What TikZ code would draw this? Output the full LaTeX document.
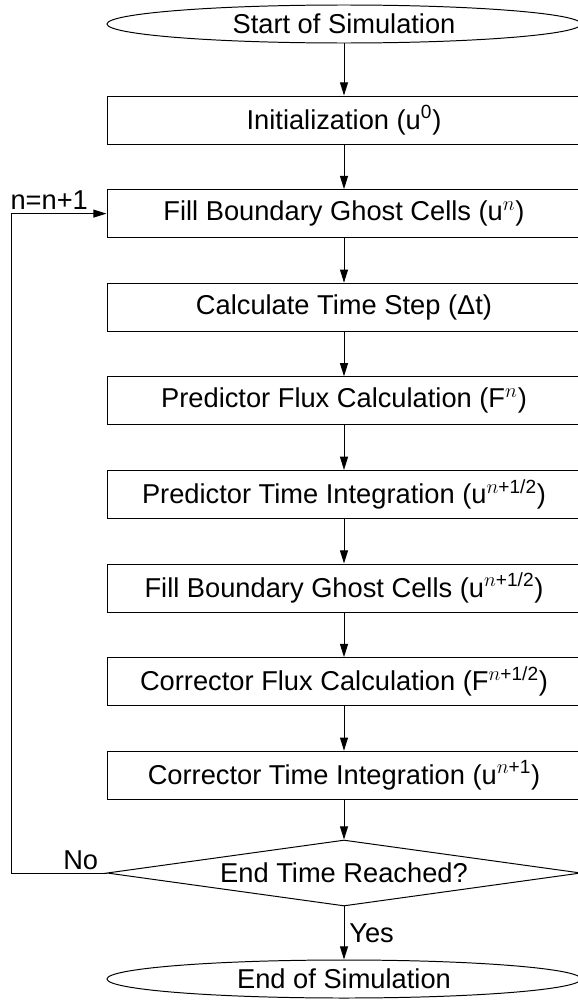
\documentclass[tikz,border=0pt]{standalone}
\usepackage{fontspec}
\setmainfont{Liberation Sans}
\usepackage{tikz}
\usetikzlibrary{arrows.meta, shapes.geometric, calc}

\begin{document}
\begin{tikzpicture}[line cap=round, line width=0.7pt,
  font=\fontsize{19.4}{23}\selectfont,
  stepbox/.style={draw, rectangle, minimum width=11.85cm, minimum height=1.2cm, inner sep=0pt},
  termbox/.style={draw, ellipse, minimum width=11.85cm, minimum height=0.95cm, inner sep=0pt},
  decidebox/.style={draw, diamond, aspect=7.1, minimum width=11.85cm, minimum height=1.65cm, inner sep=0pt},
  flow/.style={-{Triangle[length=0.33cm, width=0.2cm]}}]

  \useasboundingbox (0,0) rectangle (14.425,-25.025);

  \node[termbox] (start) at (8.6,-0.6) {Start of Simulation};
  \node[stepbox] (init) at (8.6,-3.0) {Initialization (u\textsuperscript{0})};
  \node[stepbox] (fill) at (8.6,-5.34) {Fill Boundary Ghost Cells (u\textsuperscript{$n$})};
  \node[stepbox] (dt) at (8.6,-7.68) {Calculate Time Step (Δt)};
  \node[stepbox] (predflux) at (8.6,-10.02) {Predictor Flux Calculation (F\textsuperscript{$n$})};
  \node[stepbox] (predint) at (8.6,-12.36) {Predictor Time Integration (u\textsuperscript{$n$+1/2})};
  \node[stepbox] (fillhalf) at (8.6,-14.70) {Fill Boundary Ghost Cells (u\textsuperscript{$n$+1/2})};
  \node[stepbox] (corrflux) at (8.6,-17.04) {Corrector Flux Calculation (F\textsuperscript{$n$+1/2})};
  \node[stepbox] (corrint) at (8.6,-19.38) {Corrector Time Integration (u\textsuperscript{$n$+1})};
  \node[decidebox] (check) at (8.6,-21.825) {End Time Reached?};
  \node[termbox] (stop) at (8.6,-24.475) {End of Simulation};

  \coordinate (back) at (0.275,-21.825);

  \draw[flow] (start) -- (init);
  \draw[flow] (init) -- (fill);
  \draw[flow] (fill) -- (dt);
  \draw[flow] (dt) -- (predflux);
  \draw[flow] (predflux) -- (predint);
  \draw[flow] (predint) -- (fillhalf);
  \draw[flow] (fillhalf) -- (corrflux);
  \draw[flow] (corrflux) -- (corrint);
  \draw[flow] (corrint) -- (check);
  \draw[flow] (check) -- node[right, inner sep=0.12cm] {Yes} (stop);
  % loop back to the ghost cells
  \draw[flow] (check.west) -- node[above, pos=0.27, inner sep=0.06cm] {No} (back)
    |- node[above, pos=0.7, inner sep=0.1cm] {n=n+1} (fill.west);

\end{tikzpicture}
\end{document}
